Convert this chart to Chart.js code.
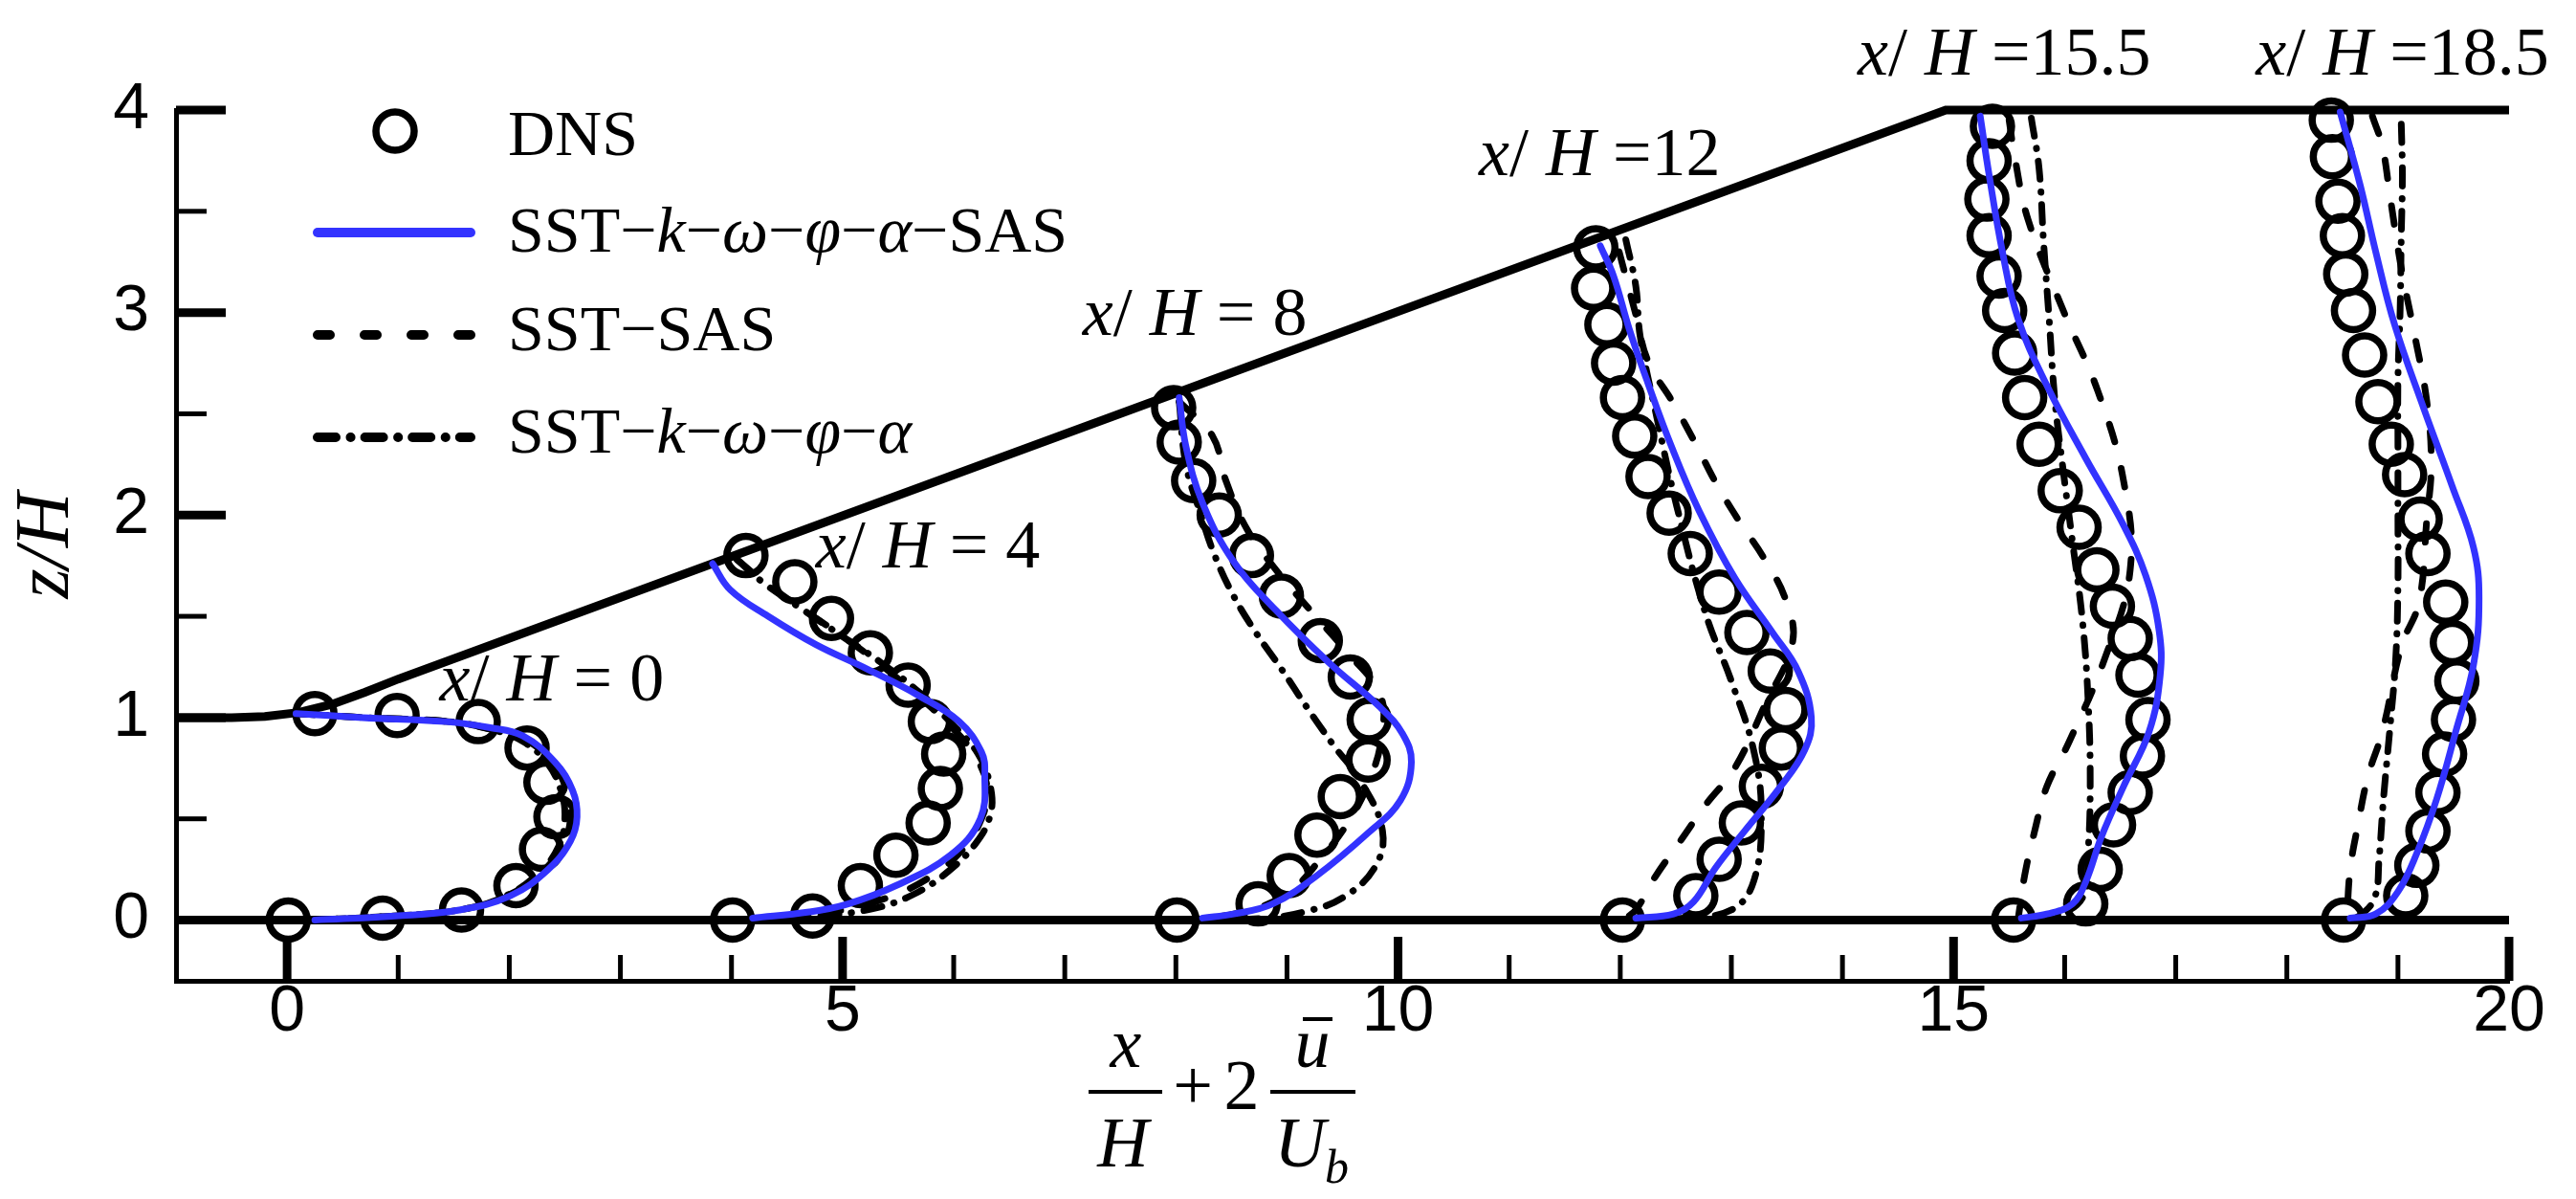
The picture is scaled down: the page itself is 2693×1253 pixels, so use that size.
<!DOCTYPE html>
<html>
<head>
<meta charset="utf-8">
<script src="https://cdn.jsdelivr.net/npm/chart.js@4.4.0/dist/chart.umd.min.js"></script>
<style>
  html, body { margin: 0; padding: 0; background: #fff; }
  canvas { display: block; }
</style>
</head>
<body>
<canvas id="perfiles" width="2693" height="1253"></canvas>
<script>
// estaciones x/H
const estaciones = [0, 4, 8, 12, 15.5, 18.5];

// puntos [x/H + 2u/Ub, z/H]
// DNS (circulos)
const dns_0 = [[0.25,1.02],[0.99,1.01],[1.72,0.98],[2.16,0.85],[2.33,0.68],[2.42,0.51],[2.29,0.35],[2.06,0.17],[1.57,0.05],[0.86,0.01],[0.01,0.0]];
const dns_4 = [[4.13,1.80],[4.57,1.67],[4.90,1.49],[5.25,1.32],[5.59,1.16],[5.79,0.98],[5.91,0.82],[5.88,0.65],[5.77,0.48],[5.48,0.32],[5.16,0.17],[4.73,0.02],[4.01,0.0]];
const dns_8 = [[7.98,2.53],[8.03,2.36],[8.16,2.17],[8.39,2.00],[8.68,1.80],[8.95,1.60],[9.30,1.38],[9.57,1.20],[9.74,0.99],[9.73,0.79],[9.48,0.61],[9.27,0.42],[9.02,0.22],[8.74,0.08],[8.01,0.0]];
const dns_12 = [[11.78,3.32],[11.76,3.12],[11.88,2.94],[11.94,2.75],[12.02,2.58],[12.13,2.39],[12.25,2.19],[12.44,2.01],[12.63,1.81],[12.89,1.62],[13.14,1.42],[13.35,1.23],[13.49,1.04],[13.45,0.85],[13.27,0.66],[13.09,0.48],[12.89,0.30],[12.68,0.12],[12.02,0.0]];
const dns_155 = [[15.35,3.92],[15.32,3.75],[15.30,3.56],[15.32,3.38],[15.41,3.18],[15.46,3.01],[15.55,2.80],[15.64,2.58],[15.77,2.35],[15.96,2.12],[16.13,1.94],[16.29,1.73],[16.43,1.55],[16.59,1.39],[16.66,1.21],[16.75,0.99],[16.70,0.81],[16.59,0.63],[16.44,0.47],[16.32,0.25],[16.19,0.08],[15.54,0.0]];
const dns_185 = [[18.40,3.95],[18.41,3.77],[18.46,3.55],[18.50,3.38],[18.53,3.19],[18.60,3.01],[18.70,2.79],[18.82,2.56],[18.94,2.35],[19.06,2.20],[19.20,1.98],[19.27,1.81],[19.43,1.57],[19.49,1.37],[19.53,1.18],[19.50,0.99],[19.42,0.82],[19.36,0.63],[19.27,0.44],[19.17,0.27],[19.07,0.12],[18.51,0.0]];

// SST-k-w-phi-alpha-SAS (azul)
const sas_pa_0 = [[0.08,1.02],[0.68,1.0],[1.43,0.98],[1.83,0.95],[2.12,0.91],[2.41,0.78],[2.57,0.64],[2.61,0.51],[2.55,0.39],[2.35,0.25],[2.01,0.12],[1.55,0.05],[0.97,0.02],[0.25,0.0]];
const sas_pa_4 = [[3.83,1.76],[3.99,1.63],[4.33,1.50],[4.76,1.36],[5.22,1.24],[5.68,1.11],[6.05,0.98],[6.25,0.83],[6.28,0.72],[6.24,0.50],[5.97,0.32],[5.48,0.17],[5.05,0.08],[4.70,0.04],[4.19,0.01]];
const sas_pa_8 = [[8.03,2.58],[8.09,2.34],[8.24,2.06],[8.52,1.77],[8.90,1.53],[9.38,1.27],[9.84,1.05],[10.04,0.92],[10.12,0.78],[10.02,0.59],[9.73,0.43],[9.27,0.22],[8.87,0.08],[8.52,0.03],[8.24,0.01]];
const sas_pa_12 = [[11.82,3.33],[11.94,3.18],[12.08,2.92],[12.25,2.65],[12.46,2.34],[12.71,2.02],[13.03,1.69],[13.37,1.42],[13.60,1.23],[13.72,1.00],[13.66,0.84],[13.43,0.65],[13.12,0.44],[12.86,0.26],[12.66,0.09],[12.48,0.03],[12.14,0.01]];
const sas_pa_155 = [[15.24,3.97],[15.32,3.68],[15.44,3.30],[15.58,2.97],[15.84,2.64],[16.19,2.28],[16.53,1.95],[16.73,1.70],[16.85,1.43],[16.86,1.21],[16.76,0.93],[16.53,0.66],[16.33,0.41],[16.19,0.19],[16.07,0.08],[15.84,0.03],[15.61,0.01]];
const sas_pa_185 = [[18.48,3.99],[18.66,3.63],[18.80,3.30],[18.97,2.94],[19.23,2.53],[19.49,2.14],[19.68,1.84],[19.73,1.59],[19.68,1.26],[19.52,0.93],[19.35,0.60],[19.17,0.33],[19.00,0.14],[18.80,0.03],[18.57,0.01]];

// SST-SAS (discontinua)
const sas_0 = [[0.08,1.02],[0.7,1.0],[1.45,0.98],[1.85,0.94],[2.15,0.89],[2.40,0.77],[2.52,0.63],[2.55,0.50],[2.48,0.37],[2.30,0.24],[1.98,0.12],[1.55,0.05],[0.95,0.02],[0.2,0.0]];
const sas_4 = [[4.05,1.78],[4.27,1.68],[4.60,1.55],[4.95,1.42],[5.30,1.28],[5.65,1.12],[5.95,0.97],[6.18,0.82],[6.30,0.66],[6.25,0.50],[6.05,0.33],[5.75,0.20],[5.40,0.11],[5.00,0.05],[4.50,0.02],[4.05,0.0]];
const sas_8 = [[8.03,2.56],[8.33,2.39],[8.45,2.17],[8.64,1.93],[8.90,1.73],[9.21,1.53],[9.53,1.33],[9.84,1.11],[9.85,0.90],[9.75,0.70],[9.57,0.50],[9.30,0.30],[9.00,0.13],[8.60,0.04],[8.10,0.0]];
const sas_12 = [[11.99,3.30],[12.14,2.99],[12.25,2.76],[12.48,2.55],[12.69,2.34],[12.86,2.16],[13.07,1.97],[13.29,1.79],[13.49,1.58],[13.55,1.37],[13.30,1.06],[13.03,0.75],[12.77,0.57],[12.54,0.39],[12.31,0.21],[12.14,0.05],[12.02,0.0]];
const sas_155 = [[15.50,3.95],[15.55,3.77],[15.67,3.46],[15.98,3.02],[16.30,2.61],[16.53,2.17],[16.59,1.73],[16.36,1.29],[16.04,0.88],[15.84,0.66],[15.73,0.44],[15.64,0.22],[15.58,0.0]];
const sas_185 = [[18.77,3.97],[18.86,3.82],[18.93,3.57],[19.03,3.22],[19.15,2.89],[19.26,2.56],[19.30,2.25],[19.26,1.98],[19.19,1.57],[19.03,1.35],[18.86,0.93],[18.73,0.71],[18.64,0.47],[18.57,0.25],[18.54,0.0]];

// SST-k-w-phi-alpha (punto y raya)
const pa_0 = [[0.08,1.02],[0.7,1.0],[1.45,0.98],[1.85,0.94],[2.13,0.88],[2.35,0.77],[2.47,0.63],[2.50,0.50],[2.45,0.37],[2.28,0.24],[1.97,0.12],[1.55,0.05],[0.95,0.02],[0.2,0.0]];
const pa_4 = [[4.05,1.78],[4.30,1.66],[4.65,1.53],[5.00,1.40],[5.35,1.27],[5.70,1.12],[6.00,0.96],[6.22,0.82],[6.33,0.66],[6.33,0.52],[6.20,0.38],[5.95,0.24],[5.65,0.13],[5.30,0.06],[4.80,0.02],[4.05,0.0]];
const pa_8 = [[8.03,2.56],[8.09,2.25],[8.22,2.01],[8.35,1.80],[8.52,1.60],[8.72,1.42],[8.95,1.24],[9.18,1.05],[9.41,0.87],[9.67,0.68],[9.86,0.44],[9.79,0.26],[9.50,0.11],[9.15,0.04],[8.81,0.01],[8.2,0.0]];
const pa_12 = [[12.05,3.36],[12.14,3.13],[12.18,2.88],[12.33,2.48],[12.51,2.04],[12.77,1.51],[13.00,1.18],[13.20,0.84],[13.27,0.52],[13.20,0.19],[13.00,0.05],[12.57,0.01],[12.05,0.0]];
const pa_155 = [[15.70,3.96],[15.77,3.71],[15.81,3.35],[15.86,2.97],[15.91,2.58],[15.98,2.25],[16.07,1.87],[16.16,1.48],[16.21,1.10],[16.23,0.69],[16.21,0.33],[16.16,0.11],[15.90,0.02],[15.55,0.0]];
const pa_185 = [[19.03,3.93],[19.04,3.68],[19.03,3.38],[19.02,3.02],[19.00,2.67],[19.00,2.34],[19.00,1.98],[19.00,1.65],[18.98,1.29],[18.93,0.96],[18.87,0.60],[18.83,0.30],[18.79,0.11],[18.65,0.02],[18.52,0.0]];

// paredes del canal
const pared_sup = [[-1,1.0],[-0.5,1.0],[-0.2,1.005],[0.1,1.025],[0.4,1.065],[0.7,1.125],[1.0,1.19],[14.93,4.0],[20,4.0]];
const pared_inf = [[-1,0],[20,0]];

// ejes
const ticksX = [0, 5, 10, 15, 20];
const ticksY = [0, 1, 2, 3, 4];
const menoresX = [1,2,3,4,6,7,8,9,11,12,13,14,16,17,18,19];
const menoresY = [0.5, 1.5, 2.5, 3.5];

const perfilesDNS = [dns_0, dns_4, dns_8, dns_12, dns_155, dns_185];
const perfilesAzul = [sas_pa_0, sas_pa_4, sas_pa_8, sas_pa_12, sas_pa_155, sas_pa_185];
const perfilesSAS = [sas_0, sas_4, sas_8, sas_12, sas_155, sas_185];
const perfilesPA = [pa_0, pa_4, pa_8, pa_12, pa_155, pa_185];

// donde van los rotulos x/H = ... (coordenadas de datos, esquina izq. de la linea base)
const posRotulos = [[1.373,1.086],[4.758,1.742],[7.161,2.890],[10.727,3.679],[14.137,4.175],[17.721,4.175]];

const AZUL = '#3333ff';
const RAYA = [19.5, 28.5];
const RAYA_PUNTO = [19, 13, 0.5, 13];
const SERIF = '"Liberation Serif", "Times New Roman", serif';
const SANS = '"Liberation Sans", Arial, sans-serif';

function pares(arr) {
  return arr.map(p => ({x: p[0], y: p[1]}));
}

// texto con partes en cursiva marcadas con *...*
function textoRico(ctx, str, x, y, size) {
  str.split('*').forEach((parte, i) => {
    ctx.font = (i % 2 ? 'italic ' : '') + size + 'px ' + SERIF;
    ctx.fillText(parte, x, y);
    x += ctx.measureText(parte).width;
  });
}

let datasets = [];
datasets.push({label: 'pared', data: pares(pared_sup), showLine: true, borderColor: '#000', borderWidth: 9,
  pointRadius: 0, tension: 0, clip: false, order: 9});
datasets.push({label: 'pared', data: pares(pared_inf), showLine: true, borderColor: '#000', borderWidth: 9,
  pointRadius: 0, tension: 0, clip: false, order: 9});

perfilesAzul.forEach(p => datasets.push({
  label: 'SST-k-ω-φ-α-SAS', data: pares(p), showLine: true, borderColor: AZUL, borderWidth: 7,
  borderCapStyle: 'round', pointRadius: 0, tension: 0.4, clip: false, order: 0
}));
perfilesSAS.forEach(p => datasets.push({
  label: 'SST-SAS', data: pares(p), showLine: true, borderColor: '#000', borderWidth: 7,
  borderDash: RAYA, borderCapStyle: 'round', pointRadius: 0, tension: 0.4, clip: false, order: 1
}));
perfilesPA.forEach(p => datasets.push({
  label: 'SST-k-ω-φ-α', data: pares(p), showLine: true, borderColor: '#000', borderWidth: 7,
  borderDash: RAYA_PUNTO, borderCapStyle: 'round', pointRadius: 0, tension: 0.4, clip: false, order: 2
}));
perfilesDNS.forEach(p => datasets.push({
  label: 'DNS', data: pares(p), showLine: false, pointRadius: 20, pointHoverRadius: 20,
  pointBorderWidth: 7.5, pointBorderColor: '#000', pointBackgroundColor: 'rgba(0,0,0,0)', clip: false, order: 3
}));

// marcas menores y mayores hacia adentro
const marcas = {
  id: 'marcas',
  afterDraw(chart) {
    const ctx = chart.ctx, a = chart.chartArea;
    const sx = chart.scales.x, sy = chart.scales.y;
    ctx.save();
    ctx.strokeStyle = '#000';
    ticksX.concat(menoresX).forEach(v => {
      const mayor = ticksX.includes(v);
      const px = sx.getPixelForValue(v);
      ctx.lineWidth = mayor ? 9 : 5;
      ctx.beginPath();
      ctx.moveTo(px, a.bottom);
      ctx.lineTo(px, a.bottom - (mayor ? 46 : 27));
      ctx.stroke();
    });
    ticksY.concat(menoresY).forEach(v => {
      const mayor = ticksY.includes(v);
      const py = sy.getPixelForValue(v);
      ctx.lineWidth = mayor ? 9 : 5;
      ctx.beginPath();
      ctx.moveTo(a.left, py);
      ctx.lineTo(a.left + (mayor ? 52 : 32), py);
      ctx.stroke();
    });
    ctx.restore();
  }
};

// leyenda dentro del area
const leyenda = {
  id: 'leyenda',
  afterDraw(chart) {
    const ctx = chart.ctx, a = chart.chartArea;
    const x0 = a.left, y0 = a.top;
    ctx.save();
    ctx.fillStyle = '#000';
    ctx.strokeStyle = '#000';
    // DNS
    ctx.lineWidth = 7.5;
    ctx.beginPath();
    ctx.arc(x0 + 229, y0 + 22, 20, 0, Math.PI * 2);
    ctx.stroke();
    const lineas = [
      {y: 128, color: AZUL, dash: []},
      {y: 235, color: '#000', dash: [13, 36]},
      {y: 342, color: '#000', dash: [19, 15.5, 0.1, 15]}
    ];
    ctx.lineWidth = 10;
    ctx.lineCap = 'round';
    lineas.forEach(l => {
      ctx.strokeStyle = l.color;
      ctx.setLineDash(l.dash);
      ctx.beginPath();
      ctx.moveTo(x0 + 148, y0 + l.y);
      ctx.lineTo(x0 + 308, y0 + l.y);
      ctx.stroke();
    });
    ctx.setLineDash([]);
    const textos = ['DNS', 'SST\u2212*k*\u2212*ω*\u2212*φ*\u2212*α*\u2212SAS', 'SST\u2212SAS', 'SST\u2212*k*\u2212*ω*\u2212*φ*\u2212*α*'];
    const bases = [47, 148, 251, 358];
    ctx.textBaseline = 'alphabetic';
    ctx.textAlign = 'left';
    textos.forEach((t, i) => textoRico(ctx, t, x0 + 347, y0 + bases[i], 68));
    ctx.restore();
  }
};

// rotulos de estaciones y titulo del eje x
const rotulos = {
  id: 'rotulos',
  afterDraw(chart) {
    const ctx = chart.ctx, a = chart.chartArea;
    const sx = chart.scales.x, sy = chart.scales.y;
    ctx.save();
    ctx.fillStyle = '#000';
    ctx.textAlign = 'left';
    ctx.textBaseline = 'alphabetic';
    estaciones.forEach((s, i) => {
      const t = '*x*/ *H*' + (s < 10 ? ' = ' : ' =') + s;
      textoRico(ctx, t, sx.getPixelForValue(posRotulos[i][0]), sy.getPixelForValue(posRotulos[i][1]), 72);
    });

    // x/H + 2 u/Ub
    const ax = 1138, by = a.bottom + 116;
    ctx.textAlign = 'center';
    ctx.font = 'italic 74px ' + SERIF;
    ctx.fillText('x', ax + 39, by - 26);
    ctx.fillText('H', ax + 36, by + 78);
    ctx.fillText('u', ax + 234, by - 26);
    ctx.fillText('U', ax + 221, by + 78);
    ctx.font = '74px ' + SERIF;
    ctx.fillText('+', ax + 109, by + 18);
    ctx.fillText('2', ax + 160, by + 18);
    ctx.textAlign = 'left';
    ctx.font = 'italic 50px ' + SERIF;
    ctx.fillText('b', ax + 247, by + 95);
    ctx.lineWidth = 4;
    ctx.strokeStyle = '#000';
    ctx.beginPath();
    ctx.moveTo(ax, by); ctx.lineTo(ax + 77, by);
    ctx.moveTo(ax + 190, by); ctx.lineTo(ax + 279, by);
    ctx.moveTo(ax + 224, by - 76); ctx.lineTo(ax + 255, by - 76);
    ctx.stroke();
    ctx.restore();
  }
};

let ctx = document.getElementById('perfiles').getContext('2d');
let grafico = new Chart(ctx, {
  type: 'scatter',
  data: { datasets: datasets },
  options: {
    responsive: false,
    devicePixelRatio: 1,
    animation: false,
    events: [],
    layout: { padding: { top: 115, right: 70, bottom: 0, left: 0 } },
    plugins: {
      legend: { display: false },
      tooltip: { enabled: false }
    },
    scales: {
      x: {
        type: 'linear',
        min: -1,
        max: 20,
        grid: { display: false, drawTicks: false },
        border: { display: true, color: '#000', width: 5 },
        ticks: { color: '#000', font: { family: SANS, size: 68 }, padding: -8, maxRotation: 0, autoSkip: false },
        afterBuildTicks: s => { s.ticks = ticksX.map(v => ({value: v})); },
        afterFit: s => { s.height = 228; }
      },
      y: {
        type: 'linear',
        min: -0.3,
        max: 4,
        grid: { display: false, drawTicks: false },
        border: { display: true, color: '#000', width: 5 },
        ticks: { color: '#000', font: { family: SANS, size: 68 }, padding: 28 },
        afterBuildTicks: s => { s.ticks = ticksY.map(v => ({value: v})); },
        title: { display: true, text: 'z/H', color: '#000', font: { family: SERIF, size: 80, style: 'italic' }, padding: { top: 2, bottom: 0 } },
        afterFit: s => { s.width = 184; }
      }
    }
  },
  plugins: [marcas, leyenda, rotulos]
});
</script>
</body>
</html>
